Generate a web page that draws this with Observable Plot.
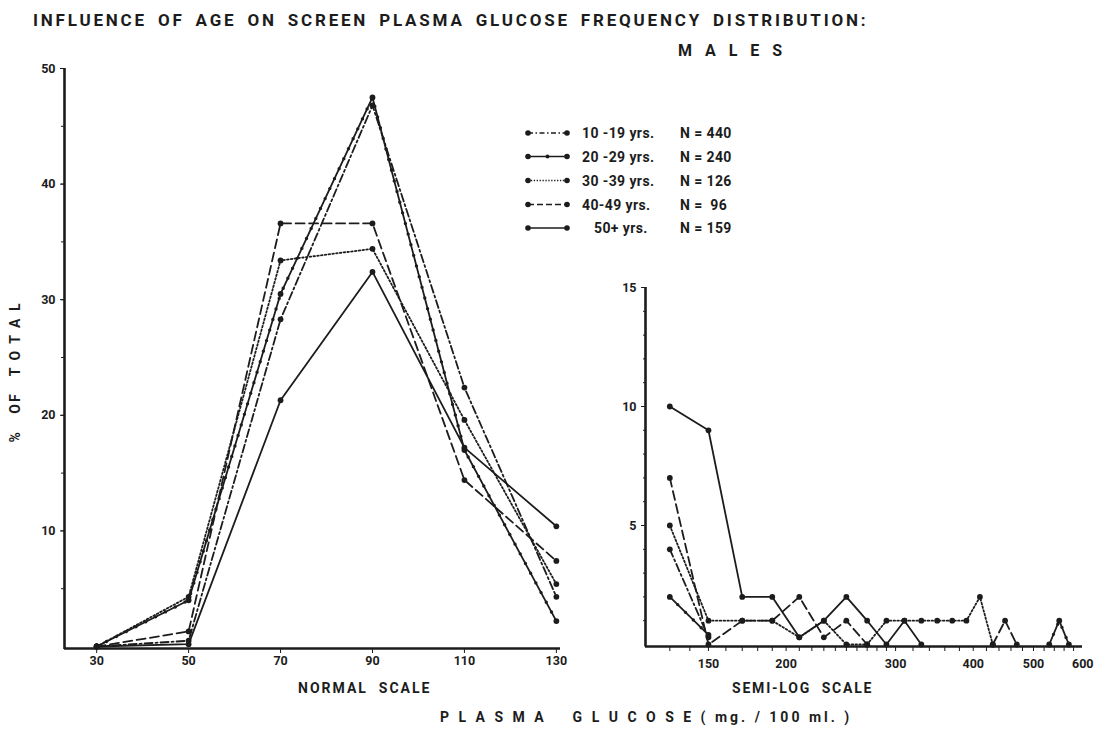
<!DOCTYPE html>
<html><head><meta charset="utf-8">
<script src="https://cdn.jsdelivr.net/npm/d3@7"></script>
<script src="https://cdn.jsdelivr.net/npm/@observablehq/plot@0.6"></script>
<style>
body{margin:0;background:#fff;}
#wrap{position:relative;width:1098px;height:729px;font-family:Roboto,"DejaVu Sans",sans-serif;font-weight:bold;color:#1c1c1c;overflow:hidden;}
#wrap svg.panel{position:absolute;left:0;top:0;}
.t{position:absolute;white-space:pre;line-height:1;}
</style></head><body><div id="wrap"></div>
<script>
// ---------------- data ----------------
const seriesNames = ["10 -19 yrs.", "20 -29 yrs.", "30 -39 yrs.", "40-49 yrs.", "50+ yrs."];
const seriesN = ["N = 440", "N = 240", "N = 126", "N =  96", "N = 159"];

// Normal scale panel (plasma glucose, mg/100 ml)
const leftBins = [30, 50, 70, 90, 110, 130];
const left_10_19 = [0, 0.5, 28.3, 46.8, 22.4, 4.3];
const left_20_29 = [0, 4.0, 30.5, 47.5, 17.0, 2.2];
const left_30_39 = [0, 4.3, 33.4, 34.4, 19.6, 5.4];
const left_40_49 = [0, 1.3, 36.6, 36.6, 14.4, 7.4];
const left_50p   = [0, 0.2, 21.3, 32.4, 17.2, 10.4];

// Semi-log panel (null = no point; the line is broken there)
const rightBins   = [130, 150, 170, 190, 210, 230, 250, 270, 290, 310, 330, 350, 370, 390, 410, 430, 450, 470, 490, 510, 530, 550, 570];
const right_10_19 = [4, 0.3, null, null, null, null, null, null, null, null, null, null, null, null, null, null, null, null, null, null, null, null, null];
const right_20_29 = [2, 0.4, null, null, null, null, null, null, null, null, null, null, null, null, null, null, null, null, null, null, 0, 1, 0];
const right_30_39 = [5, 1, 1, 1, 0.3, 1, 0, 0, 1, 1, 1, 1, 1, 1, 2, 0, null, null, null, null, null, null, null];
const right_40_49 = [7, 0, 1, 1, 2, 0.3, 1, 0, null, null, null, null, null, null, null, 0, 1, 0, null, null, null, null, null];
const right_50p   = [10, 9, 2, 2, 0.3, 1, 2, 1, 0, 1, 0, null, null, null, null, null, null, null, null, null, null, null, null];

const leftTicksY = [10, 20, 30, 40, 50];
const rightTicksY = [5, 10, 15];
const rightTickLabels = [150, 200, 300, 400, 500, 600];

// ---------------- styling ----------------
const INK = "#1c1c1c";
const styles = [
  {dash: "8,3,2,3", legendDash: "5,2.5,1.5,2.5", dots: false},   // 10-19 dash-dot
  {dash: null, legendDash: null, dots: true},                    // 20-29 solid with small dots
  {dash: "1.6,2.2", legendDash: "1.3,1.6", dots: false},         // 30-39 dotted
  {dash: "9,4.5", legendDash: "6,3", dots: false},               // 40-49 dashed
  {dash: null, legendDash: null, dots: false}                    // 50+ solid
];
const leftVals = [left_10_19, left_20_29, left_30_39, left_40_49, left_50p];
const rightVals = [right_10_19, right_20_29, right_30_39, right_40_49, right_50p];

function rowsFor(bins, vals, si) {
  return bins.map((b, i) => ({x: b, y: (vals[i] === null || vals[i] === undefined) ? NaN : vals[i], s: seriesNames[si]}));
}
function lineMarks(rows, st) {
  const m = [Plot.line(rows, {x: "x", y: "y", stroke: INK, strokeWidth: 1.8, strokeDasharray: st.dash, strokeLinejoin: "round"})];
  if (st.dots) m.push(Plot.line(rows, {x: "x", y: "y", stroke: INK, strokeWidth: 3.4, strokeDasharray: "0,11", strokeLinecap: "round"}));
  m.push(Plot.dot(rows.filter(d => !isNaN(d.y)), {x: "x", y: "y", r: 2.9, fill: INK}));
  return m;
}

const wrap = document.getElementById("wrap");
const FONT = "Roboto, 'DejaVu Sans', sans-serif";

// ---------------- left panel ----------------
const lxMin = 23.0, lxMax = 130.9;
const leftMarks = [];
leftVals.forEach((v, si) => leftMarks.push(...lineMarks(rowsFor(leftBins, v, si), styles[si])));
const left = Plot.plot({
  width: 1098, height: 729,
  marginLeft: 0, marginRight: 0, marginTop: 0, marginBottom: 0,
  style: {background: "transparent", fontFamily: FONT, fontWeight: "bold", color: INK, overflow: "visible"},
  x: {type: "linear", domain: [lxMin, lxMax], range: [64, 560]},
  y: {type: "linear", domain: [0, 50], range: [646, 68]},
  marks: [
    Plot.axisY(leftTicksY, {anchor: "left", label: null, tickSize: 4, tickPadding: 5, fontSize: 12.5, fontWeight: "bold", x: lxMin}),
    Plot.axisY(d3.range(5, 50, 5), {anchor: "left", label: null, tickSize: 3, tickFormat: () => "", x: lxMin}),
    Plot.axisX(leftBins, {anchor: "bottom", label: null, tickSize: 4, tickPadding: 3, fontSize: 12.5, fontWeight: "bold", y: 0, dy: 3}),
    Plot.ruleX([lxMin], {y1: -0.25, y2: 50, stroke: INK, strokeWidth: 2.6}),
    Plot.ruleY([0], {x1: lxMin, x2: lxMax, stroke: INK, strokeWidth: 2.6, dy: 2}),
    ...leftMarks
  ]
});
left.classList.add("panel");
wrap.appendChild(left);

// ---------------- right panel ----------------
const rxMin = 118.8, rxMax = 599.5;
const rightMarks = [];
rightVals.forEach((v, si) => rightMarks.push(...lineMarks(rowsFor(rightBins, v, si), styles[si])));
const minorR = d3.range(130, 300, 10).concat(d3.range(300, 600, 20));
const right = Plot.plot({
  width: 1098, height: 729,
  marginLeft: 0, marginRight: 0, marginTop: 0, marginBottom: 0,
  style: {background: "transparent", fontFamily: FONT, fontWeight: "bold", color: INK, overflow: "visible"},
  x: {type: "log", domain: [rxMin, rxMax], range: [645, 1082]},
  y: {type: "linear", domain: [0, 15], range: [644, 287]},
  marks: [
    Plot.axisY(rightTicksY, {anchor: "left", label: null, tickSize: 4, tickPadding: 5, fontSize: 12.5, fontWeight: "bold", x: rxMin}),
    Plot.axisY(d3.range(1, 15, 1), {anchor: "left", label: null, tickSize: 2, tickFormat: () => "", x: rxMin}),
    Plot.axisX(minorR, {anchor: "bottom", label: null, tickSize: 4, tickFormat: () => "", y: 0, dy: 3}),
    Plot.axisX(rightTickLabels, {anchor: "bottom", label: null, tickSize: 0, tickPadding: 12, fontSize: 12.5, fontWeight: "bold", y: 0, dy: 3, tickFormat: d => String(d)}),
    Plot.ruleX([rxMin], {y1: -0.1, y2: 15, stroke: INK, strokeWidth: 2.6}),
    Plot.ruleY([0], {x1: rxMin, x2: rxMax, stroke: INK, strokeWidth: 2.6, dy: 2}),
    ...rightMarks
  ]
});
right.classList.add("panel");
wrap.appendChild(right);

// ---------------- legend ----------------
const ns = "http://www.w3.org/2000/svg";
const legend = document.createElementNS(ns, "svg");
legend.setAttribute("width", 250); legend.setAttribute("height", 120);
legend.style.position = "absolute"; legend.style.left = "520px"; legend.style.top = "122px";
const rowY = [11, 34.5, 58.5, 82.5, 106];
seriesNames.forEach((name, i) => {
  const y = rowY[i];
  const st = styles[i];
  const ln = document.createElementNS(ns, "line");
  ln.setAttribute("x1", 8); ln.setAttribute("x2", 47); ln.setAttribute("y1", y); ln.setAttribute("y2", y);
  ln.setAttribute("stroke", INK); ln.setAttribute("stroke-width", 1.7);
  if (st.legendDash) ln.setAttribute("stroke-dasharray", st.legendDash);
  legend.appendChild(ln);
  const pts = st.dots ? [8, 27.5, 47] : [8, 47];
  pts.forEach((px, k) => {
    const c = document.createElementNS(ns, "circle");
    c.setAttribute("cx", px); c.setAttribute("cy", y); c.setAttribute("r", (st.dots && k === 1) ? 2 : 2.8); c.setAttribute("fill", INK);
    legend.appendChild(c);
  });
  const mk = (x, txt) => {
    const t = document.createElementNS(ns, "text");
    t.setAttribute("x", x); t.setAttribute("y", y + 5);
    t.setAttribute("font-size", 14); t.setAttribute("font-weight", "bold"); t.setAttribute("font-family", FONT); t.setAttribute("fill", INK);
    t.setAttribute("letter-spacing", "0.4");
    t.style.whiteSpace = "pre";
    t.textContent = txt;
    legend.appendChild(t);
  };
  mk(i === 4 ? 74 : 62, name);
  mk(160, seriesN[i]);
});
wrap.appendChild(legend);

// ---------------- texts ----------------
function addText(txt, css) {
  const d = document.createElement("div");
  d.className = "t"; d.textContent = txt;
  Object.assign(d.style, css);
  wrap.appendChild(d);
  return d;
}
addText("INFLUENCE OF AGE ON SCREEN PLASMA GLUCOSE FREQUENCY DISTRIBUTION:", {left: "33px", top: "12px", fontSize: "17px", letterSpacing: "2.8px", wordSpacing: "4px"});
addText("M A L E S", {left: "678px", top: "43px", fontSize: "16px", letterSpacing: "4.5px"});
addText("NORMAL  SCALE", {left: "298px", top: "681px", fontSize: "14px", letterSpacing: "2px"});
addText("SEMI-LOG  SCALE", {left: "732px", top: "681px", fontSize: "14px", letterSpacing: "1.8px"});
addText("P L A S M A    G L U C O S E ( mg. / 100 ml. )", {left: "440px", top: "710px", fontSize: "14px", letterSpacing: "3px"});
addText("%   OF   T O T A L", {left: "-75px", top: "365px", fontSize: "14px", letterSpacing: "2px", transform: "rotate(-90deg)", width: "180px", textAlign: "center"});
</script>
</body></html>
